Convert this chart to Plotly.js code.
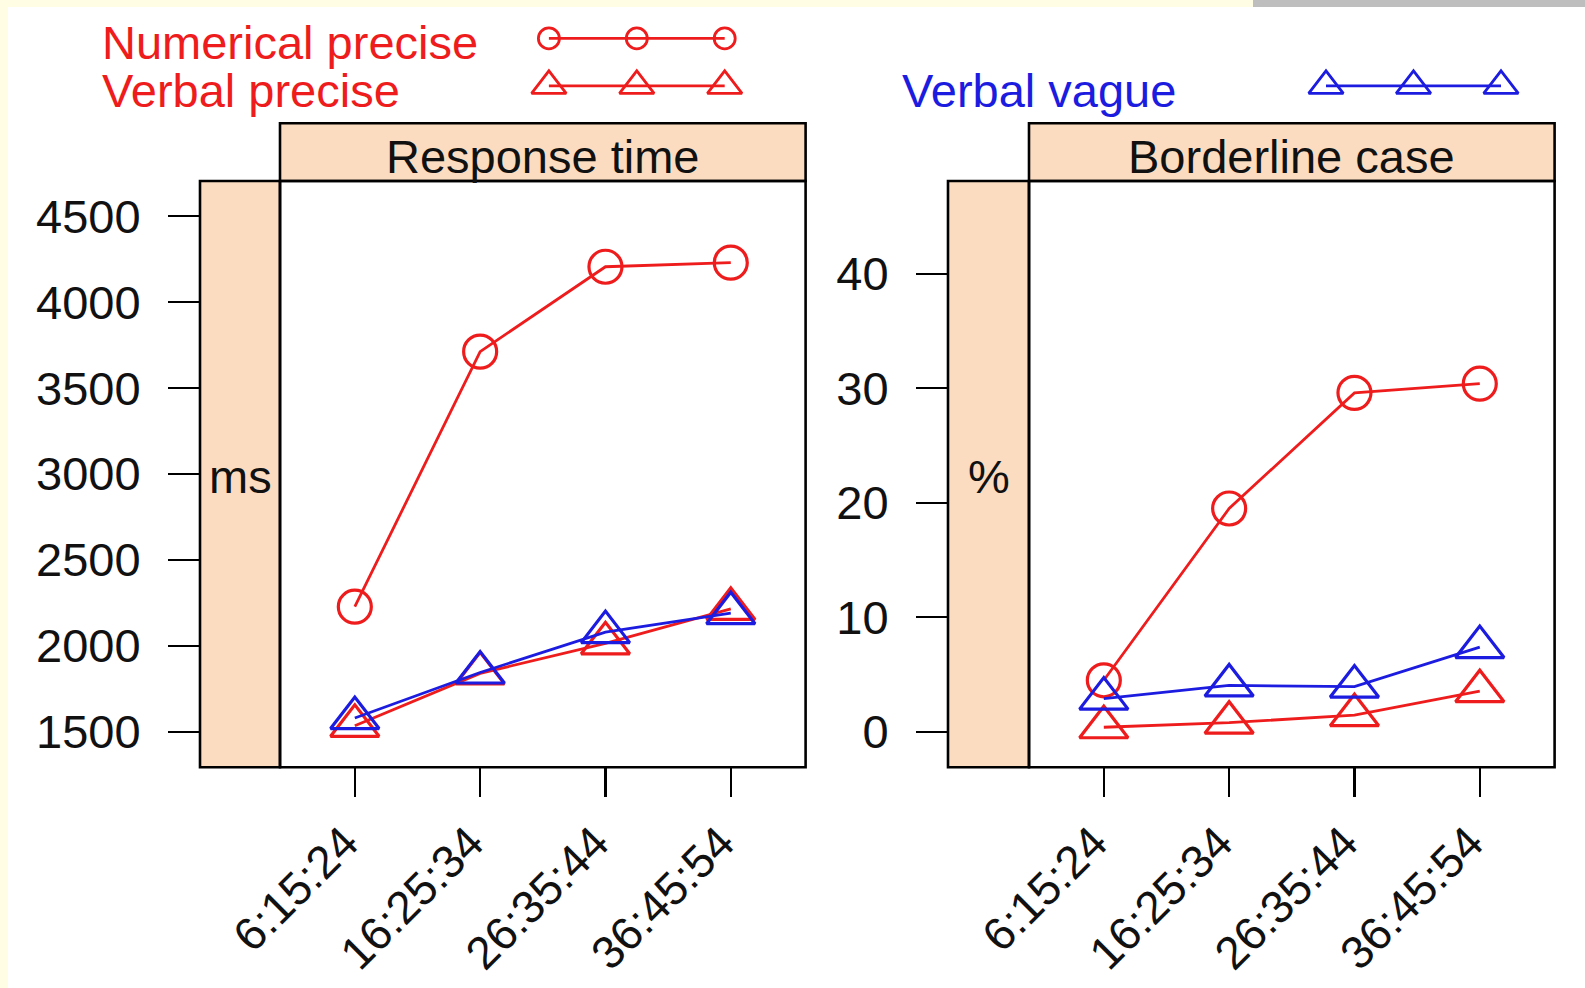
<!DOCTYPE html>
<html>
<head>
<meta charset="utf-8">
<script src="https://cdn.plot.ly/plotly-3.0.1.min.js"></script>
<style>
html,body{margin:0;padding:0;background:#ffffff;}
#chart{width:1585px;height:988px;}
</style>
</head>
<body>
<div id="chart"></div>
<script>
// ---- data ----
const categories = ['6:15:24', '16:25:34', '26:35:44', '36:45:54'];
const seriesNames = ['Numerical precise', 'Verbal precise', 'Verbal vague'];
// Response time (ms)
const rtNumericalPrecise = [2228, 3712, 4206, 4230];
const rtVerbalPrecise    = [1535, 1840, 2015, 2215];
const rtVerbalVague      = [1580, 1845, 2080, 2190];
// Borderline case (%)
const blNumericalPrecise = [4.5, 19.5, 29.6, 30.4];
const blVerbalPrecise    = [0.4, 0.8, 1.45, 3.55];
const blVerbalVague      = [2.9, 4.05, 3.95, 7.4];
// axis ticks
const rtTicks = [1500, 2000, 2500, 3000, 3500, 4000, 4500];
const blTicks = [0, 10, 20, 30, 40];
const panelTitles = ['Response time', 'Borderline case'];
const panelUnits = ['ms', '%'];
const legendKeys = [1, 2, 3];

// ---- layout helpers ----
const W = 1585, H = 988;
const px = x => x / W;
const py = y => 1 - y / H;
const RED = '#ee1c1c', BLUE = '#1c1ce0';
const STRIP = '#fbdcc0';
const FONT = 'Liberation Sans, Arial, Helvetica, sans-serif';
const FS = 47;

const styles = [
  {color: RED, symbol: 'circle-open', size: 33},
  {color: RED, symbol: 'triangle-up-open', size: 42},
  {color: BLUE, symbol: 'triangle-up-open', size: 42}
];

function mk(x, y, s, xa, ya, name) {
  return {
    x: x, y: y, xaxis: xa, yaxis: ya, name: name,
    type: 'scatter', mode: 'lines+markers', showlegend: false, hoverinfo: 'skip',
    line: {color: s.color, width: 2.8},
    marker: {symbol: s.symbol, size: s.size, color: s.color, line: {color: s.color, width: 3.2}}
  };
}

const rtSeries = [rtNumericalPrecise, rtVerbalPrecise, rtVerbalVague];
const blSeries = [blNumericalPrecise, blVerbalPrecise, blVerbalVague];
const traces = [];
rtSeries.forEach((v, i) => traces.push(mk(categories, v, styles[i], 'x', 'y', seriesNames[i])));
blSeries.forEach((v, i) => traces.push(mk(categories, v, styles[i], 'x2', 'y2', seriesNames[i])));

// legend keys
function key(s, xa, ya, row) {
  return {
    x: legendKeys, y: legendKeys.map(() => row), xaxis: xa, yaxis: ya,
    type: 'scatter', mode: 'lines+markers', showlegend: false, hoverinfo: 'skip',
    line: {color: s.color, width: 2.8},
    marker: {symbol: s.symbol, size: s.symbol === 'circle-open' ? 21 : 30, color: s.color,
             line: {color: s.color, width: 2.8}}
  };
}
traces.push(key(styles[0], 'x3', 'y3', 1));
traces.push(key(styles[1], 'x3', 'y3', 2));
traces.push(key(styles[2], 'x4', 'y3', 2));

// panel geometry (pixels)
const panels = [
  {outerL: 200, plotL: 280, plotR: 805.6},
  {outerL: 948, plotL: 1029, plotR: 1554.6}
];
const plotT = 181, plotB = 767.2, stripT = 123.3;

const xCommon = {
  type: 'category', range: [-0.597, 3.597], showgrid: false, zeroline: false, showline: false,
  ticks: 'outside', ticklen: 29, tickwidth: 2.4, tickcolor: '#000', tickangle: -45,
  ticklabelshift: -10,
  tickfont: {family: FONT, size: 46, color: '#111'}, fixedrange: true
};
const yCommon = {
  showgrid: false, zeroline: false, showline: false, anchor: 'free',
  ticks: 'outside', ticklen: 32, tickwidth: 2.4, tickcolor: '#000',
  ticklabelstandoff: 18,
  tickfont: {family: FONT, size: FS, color: '#111'}, fixedrange: true
};

const layout = {
  width: W, height: H,
  margin: {l: 0, r: 0, t: 0, b: 0},
  paper_bgcolor: '#ffffff', plot_bgcolor: 'rgba(0,0,0,0)',
  showlegend: false,
  xaxis: Object.assign({}, xCommon, {domain: [px(panels[0].plotL), px(panels[0].plotR)], anchor: 'y'}),
  xaxis2: Object.assign({}, xCommon, {domain: [px(panels[1].plotL), px(panels[1].plotR)], anchor: 'y2'}),
  yaxis: Object.assign({}, yCommon, {domain: [py(plotB), py(plotT)], range: [1294, 4705],
         tickvals: rtTicks, position: px(panels[0].outerL)}),
  yaxis2: Object.assign({}, yCommon, {domain: [py(plotB), py(plotT)], range: [-3.09, 48.1],
         tickvals: blTicks, position: px(panels[1].outerL)}),
  xaxis3: {domain: [px(504.95), px(768.65)], range: [0.5, 3.5], visible: false, anchor: 'y3', fixedrange: true},
  xaxis4: {domain: [px(1282.25), px(1544.75)], range: [0.5, 3.5], visible: false, anchor: 'y3', fixedrange: true},
  yaxis3: {domain: [py(109.65), py(14.65)], range: [2.5, 0.5], visible: false, anchor: 'x3', fixedrange: true},
  shapes: [],
  annotations: []
};

// background framing
layout.shapes.push({type: 'rect', xref: 'paper', yref: 'paper', x0: 0, x1: px(8), y0: 0, y1: 1,
  fillcolor: '#fffee4', line: {width: 0}, layer: 'below'});
layout.shapes.push({type: 'rect', xref: 'paper', yref: 'paper', x0: 0, x1: px(1253), y0: py(7), y1: 1,
  fillcolor: '#fffee4', line: {width: 0}, layer: 'below'});
layout.shapes.push({type: 'rect', xref: 'paper', yref: 'paper', x0: px(1253), x1: 1, y0: py(7), y1: 1,
  fillcolor: '#bebebe', line: {width: 0}, layer: 'below'});

panels.forEach((p, i) => {
  // left strip
  layout.shapes.push({type: 'rect', xref: 'paper', yref: 'paper',
    x0: px(p.outerL), x1: px(p.plotL), y0: py(plotB), y1: py(plotT),
    fillcolor: STRIP, line: {color: '#000', width: 2.6}, layer: 'below'});
  // top strip
  layout.shapes.push({type: 'rect', xref: 'paper', yref: 'paper',
    x0: px(p.plotL), x1: px(p.plotR), y0: py(plotT), y1: py(stripT),
    fillcolor: STRIP, line: {color: '#000', width: 2.6}, layer: 'below'});
  // panel box
  layout.shapes.push({type: 'rect', xref: 'paper', yref: 'paper',
    x0: px(p.plotL), x1: px(p.plotR), y0: py(plotB), y1: py(plotT),
    fillcolor: 'rgba(0,0,0,0)', line: {color: '#000', width: 2.6}, layer: 'above'});
  layout.annotations.push({xref: 'paper', yref: 'paper', x: px((p.plotL + p.plotR) / 2), y: py(156),
    text: panelTitles[i], showarrow: false, xanchor: 'center', yanchor: 'middle',
    font: {family: FONT, size: FS, color: '#111'}});
  layout.annotations.push({xref: 'paper', yref: 'paper', x: px((p.outerL + p.plotL) / 2), y: py(477),
    text: panelUnits[i], showarrow: false, xanchor: 'center', yanchor: 'middle',
    font: {family: FONT, size: FS, color: '#111'}});
});

// legend texts
[[seriesNames[0], 100, 42.5, RED], [seriesNames[1], 100, 91, RED], [seriesNames[2], 900, 91, BLUE]]
  .forEach(t => layout.annotations.push({xref: 'paper', yref: 'paper', x: px(t[1]), y: py(t[2]),
    text: t[0], showarrow: false, xanchor: 'left', yanchor: 'middle',
    font: {family: FONT, size: FS, color: t[3]}}));

Plotly.newPlot('chart', traces, layout, {staticPlot: true, displayModeBar: false});
</script>
</body>
</html>
